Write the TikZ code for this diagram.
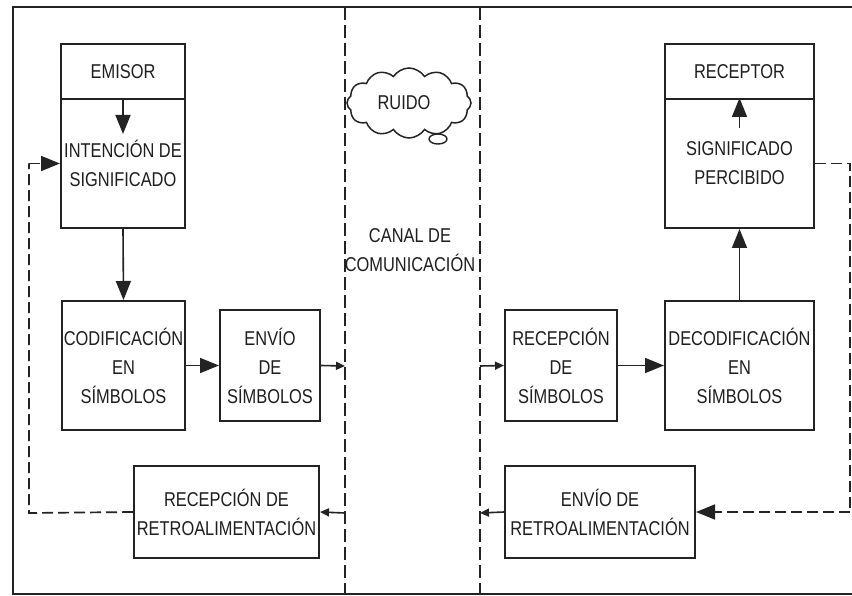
\documentclass[tikz,border=0pt]{standalone}
\usepackage{fontspec}
\setmainfont[FakeStretch=0.82]{Liberation Sans}
\usetikzlibrary{arrows.meta,shapes.symbols,shapes.geometric}
\definecolor{linec}{RGB}{35,35,35}
\definecolor{textc}{RGB}{30,30,30}
\begin{document}
\begin{tikzpicture}[x=1pt,y=-1pt,
 box/.style={draw=linec, line width=2pt, rectangle, inner sep=0pt, align=center, font=\fontsize{20}{29}\selectfont, text=textc},
 big/.style={-{Triangle[length=19pt,width=15pt]}, line width=1.6pt, draw=linec},
 small/.style={-{Triangle[length=9pt,width=8pt]}, line width=1.6pt, draw=linec},
 fb/.style={dash pattern=on 11pt off 5pt, line width=1.7pt, draw=linec},
 divider/.style={dash pattern=on 13pt off 5pt, line width=2pt, draw=linec},
 lbl/.style={font=\fontsize{20}{29}\selectfont, text=textc, align=center, inner sep=0pt}]
\useasboundingbox[fill=white] (0,0) rectangle (852,596);

% frame
\draw[line width=2.2pt, linec] (852,7) -- (13,7) -- (13,594) -- (852,594);
% channel dividers
\draw[divider] (345,7) -- (345,594);
\draw[divider] (480,7) -- (480,594);

% sender side
\node[box, minimum width=124pt, minimum height=55pt] (emh) at (123,71.5) {EMISOR};
\node[box, minimum width=124pt, minimum height=129pt] (emb) at (123,163.5) {INTENCIÓN DE\\SIGNIFICADO};
\node[box, minimum width=123pt, minimum height=129pt] (cod) at (123.5,365.5) {CODIFICACIÓN\\EN\\SÍMBOLOS};
\node[box, minimum width=100pt, minimum height=111pt] (env) at (270,365.5) {ENVÍO\\DE\\SÍMBOLOS};
\node[box, minimum width=185pt, minimum height=92pt] (rr) at (226.5,512) {RECEPCIÓN DE\\RETROALIMENTACIÓN};

% receiver side
\node[box, minimum width=149pt, minimum height=55pt] (rch) at (739.5,71.5) {RECEPTOR};
\node[box, minimum width=149pt, minimum height=129pt] (rcb) at (739.5,163.5) {SIGNIFICADO\\PERCIBIDO};
\node[box, minimum width=149pt, minimum height=129pt] (dec) at (739.5,365.5) {DECODIFICACIÓN\\EN\\SÍMBOLOS};
\node[box, minimum width=112pt, minimum height=111pt] (rs) at (561,365.5) {RECEPCIÓN\\DE\\SÍMBOLOS};
\node[box, minimum width=190pt, minimum height=92pt] (er) at (600,512) {ENVÍO DE\\RETROALIMENTACIÓN};

% channel
\node[cloud, cloud puffs=12, cloud puff arc=115, aspect=1.7, draw=linec, line width=1.5pt,
      minimum width=124pt, minimum height=70pt, inner sep=0pt] (ruido) at (409,103) {};
\node[lbl] (ruidot) at (404,103) {RUIDO};
\node[ellipse, draw=linec, line width=1.4pt, fill=white, minimum width=18pt, minimum height=10pt, inner sep=0pt] (tail) at (438,139) {};
\node[lbl] (canal) at (410,250) {CANAL DE\\COMUNICACIÓN};

% channel coordinates
\coordinate (l1) at (345,366);
\coordinate (l2) at (345,513);
\coordinate (r1) at (480,366);
\coordinate (r2) at (480,513);
\coordinate (fbl) at (29,513);
\coordinate (fbr) at (850,163.5);

% sender arrows
\draw[big] (emh.south) -- ++(0,34);
\draw[big] (emb.south) -- (cod.north);
\draw[big] (cod.east) -- (env.west);
\draw[small] (env.east) -- (l1);
\draw[small] (l2) -- (rr.east);
\draw[fb] (rr.west) -- (fbl) -- (fbl |- emb.west);
\draw[fb, -{Triangle[length=19pt,width=15pt]}] (fbl |- emb.west) -- (emb.west);

% receiver arrows
\draw[small] (r1) -- (rs.west);
\draw[big] (rs.east) -- (dec.west);
\draw[big] (dec.north) -- (rcb.south);
\draw[big] ([yshift=-30pt]rcb.north) -- (rcb.north);
\draw[small] (er.west) -- (r2);
\draw[fb] (rcb.east) -- (fbr) -- (fbr |- er.east);
\draw[fb, -{Triangle[length=19pt,width=15pt]}] (fbr |- er.east) -- (er.east);
\end{tikzpicture}
\end{document}
